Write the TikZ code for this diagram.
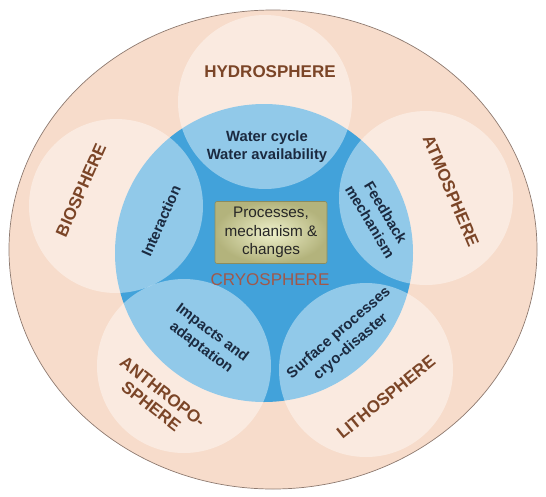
\documentclass[tikz,border=0pt]{standalone}
\usepackage{fontspec}
\setmainfont{Liberation Sans}
\usetikzlibrary{shapes.geometric}
\definecolor{peach}{HTML}{F7DCCB}
\definecolor{outerline}{HTML}{8E7A70}
\definecolor{cryoblue}{HTML}{42A2DA}
\definecolor{sphbrown}{HTML}{7B4527}
\definecolor{navytext}{HTML}{1B2A40}
\definecolor{cryored}{HTML}{A0584A}
\definecolor{boxin}{HTML}{EEF0CA}
\definecolor{boxout}{HTML}{B3B37C}
\definecolor{boxline}{HTML}{8C8C5E}
\tikzset{
  satellite/.style={circle, minimum size=174pt, inner sep=0pt, fill=white, fill opacity=0.42},
  spherelabel/.style={text=sphbrown, align=center, font=\bfseries\fontsize{17}{18.7}\selectfont, inner sep=0pt},
  innerlabel/.style={text=navytext, align=center, font=\bfseries\fontsize{14.8}{18.3}\selectfont, inner sep=0pt},
}
\begin{document}
\begin{tikzpicture}[x=1pt, y=-1pt]
\useasboundingbox (0,0) rectangle (546,496);
% outer ellipse
\node (outer) [ellipse, minimum width=528pt, minimum height=479pt, inner sep=0pt, fill=peach, draw=outerline, line width=0.7pt] at (273,249.5) {};
% cryosphere disc
\node (cryo) [circle, minimum size=298pt, inner sep=0pt, fill=cryoblue] at (264,253) {};
% satellites
\node (hydro)  [satellite] at (265,102) {};
\node (atmo)   [satellite] at (426,198) {};
\node (litho)  [satellite] at (366,370) {};
\node (anthro) [satellite] at (184,366) {};
\node (bio)    [satellite] at (116,206) {};
% central box
\node (box) [rectangle, rounded corners=2pt, minimum width=112pt, minimum height=62pt, draw=boxline, line width=0.6pt, inner color=boxin, outer color=boxout, align=center, text=black!85, font=\fontsize{15.3}{18.3}\selectfont] at (271,232.5) {Processes,\\mechanism \&\\changes};
\node (cryolabel) [text=cryored, font=\fontsize{17}{20}\selectfont, inner sep=0pt] at (270,280) {CRYOSPHERE};
% sphere labels
\node (hydroL)  [spherelabel] at (270,72) {HYDROSPHERE};
\node (atmoL)   [spherelabel, rotate=-67] at (451,191) {ATMOSPHERE};
\node (lithoL)  [spherelabel, rotate=39] at (386,397) {LITHOSPHERE};
\node (anthroL) [spherelabel, rotate=-38] at (157,399) {ANTHROPO-\\SPHERE};
\node (bioL)    [spherelabel, rotate=66] at (81,190) {BIOSPHERE};
% inner labels
\node (waterL)    [innerlabel] at (267,146.5) {Water cycle\\Water availability};
\node (feedL)     [innerlabel, rotate=-59] at (378,217) {Feedback\\mechanism};
\node (surfL)     [innerlabel, rotate=41] at (345,340) {Surface processes\\cryo-disaster};
\node (impactL)   [innerlabel, rotate=-37] at (206.5,340.5) {Impacts and\\adaptation};
\node (interL)    [innerlabel, rotate=66] at (161,221) {Interaction};
\end{tikzpicture}
\end{document}
